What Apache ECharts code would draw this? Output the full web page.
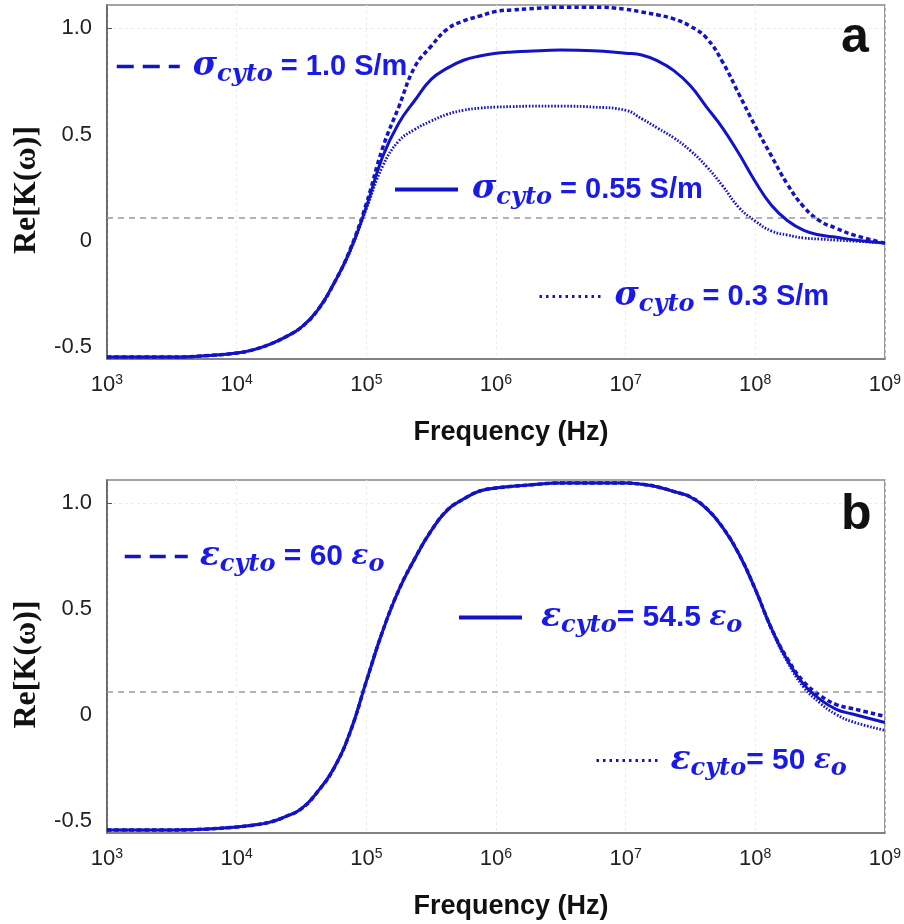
<!DOCTYPE html>
<html><head><meta charset="utf-8">
<script src="https://cdn.jsdelivr.net/npm/echarts@6/dist/echarts.min.js"></script>
<style>html,body{margin:0;padding:0;background:#fff}#c{width:904px;height:924px}</style>
</head><body><div id="c"></div>
<script>
// ---- data ----
const logFreq = [3, 3.5, 3.75, 4, 4.125, 4.25, 4.375, 4.5, 4.625, 4.75, 4.875, 5, 5.125, 5.25, 5.375, 5.5, 5.625, 5.75, 5.875, 6, 6.125, 6.25, 6.5, 6.75, 7, 7.125, 7.25, 7.375, 7.5, 7.625, 7.75, 7.875, 8, 8.125, 8.25, 8.375, 8.5, 8.625, 8.75, 9];
// panel a
const aSigma10  = [-0.546, -0.546, -0.54, -0.527, -0.512, -0.487, -0.452, -0.405, -0.325, -0.2, -0.04, 0.175, 0.436, 0.63, 0.82, 0.916, 0.997, 1.035, 1.058, 1.08, 1.087, 1.092, 1.1, 1.1, 1.09, 1.077, 1.063, 1.044, 1.01, 0.954, 0.84, 0.69, 0.54, 0.40, 0.265, 0.16, 0.094, 0.06, 0.03, -0.01];
const aSigma055 = [-0.546, -0.546, -0.54, -0.527, -0.512, -0.487, -0.452, -0.405, -0.325, -0.2, -0.045, 0.16, 0.395, 0.554, 0.662, 0.76, 0.813, 0.85, 0.87, 0.883, 0.889, 0.893, 0.898, 0.895, 0.883, 0.875, 0.846, 0.80, 0.73, 0.63, 0.53, 0.41, 0.28, 0.168, 0.095, 0.05, 0.028, 0.018, 0.006, -0.01];
const aSigma03  = [-0.546, -0.546, -0.54, -0.527, -0.512, -0.487, -0.452, -0.405, -0.325, -0.2, -0.05, 0.15, 0.35, 0.47, 0.525, 0.564, 0.596, 0.615, 0.625, 0.63, 0.632, 0.634, 0.634, 0.63, 0.615, 0.575, 0.53, 0.484, 0.425, 0.35, 0.258, 0.157, 0.094, 0.047, 0.028, 0.014, 0.009, 0.004, 0.0, -0.01];
// panel b
const bEps60  = [-0.541, -0.541, -0.537, -0.527, -0.518, -0.505, -0.478, -0.44, -0.36, -0.25, -0.08, 0.16, 0.395, 0.59, 0.74, 0.87, 0.968, 1.02, 1.058, 1.072, 1.08, 1.086, 1.096, 1.096, 1.096, 1.09, 1.077, 1.055, 1.03, 0.975, 0.885, 0.76, 0.595, 0.41, 0.265, 0.158, 0.094, 0.051, 0.032, -0.005];
const bEps545 = [-0.541, -0.541, -0.537, -0.527, -0.518, -0.505, -0.478, -0.44, -0.36, -0.25, -0.08, 0.16, 0.395, 0.59, 0.74, 0.87, 0.968, 1.02, 1.058, 1.072, 1.08, 1.086, 1.096, 1.096, 1.096, 1.09, 1.077, 1.055, 1.03, 0.975, 0.885, 0.76, 0.595, 0.41, 0.258, 0.145, 0.075, 0.028, 0.006, -0.034];
const bEps50  = [-0.541, -0.541, -0.537, -0.527, -0.518, -0.505, -0.478, -0.44, -0.36, -0.25, -0.08, 0.16, 0.395, 0.59, 0.74, 0.87, 0.968, 1.02, 1.058, 1.072, 1.08, 1.086, 1.096, 1.096, 1.096, 1.09, 1.077, 1.055, 1.03, 0.975, 0.885, 0.76, 0.595, 0.405, 0.25, 0.132, 0.058, 0.004, -0.03, -0.071];
const refLine = 0.11;
const yTicks = [-0.5, 0, 0.5, 1.0];
const yRange = [-0.555, 1.11];
const xRange = [1e3, 1e9];
const namesA = ['σcyto = 1.0 S/m', 'σcyto = 0.55 S/m', 'σcyto = 0.3 S/m'];
const namesB = ['εcyto = 60 εo', 'εcyto= 54.5 εo', 'εcyto= 50 εo'];
const labelTokensA = ['{s|σ}{b|cyto}{t| = 1.0 S/m}', '{s|σ}{b|cyto}{t| = 0.55 S/m}', '{s|σ}{b|cyto}{t| = 0.3 S/m}'];
const labelTokensB = ['{s|ε}{b|cyto}{t| = 60 }{s2|ε}{b|o}', '{s|ε}{b|cyto}{t|= 54.5 }{s2|ε}{b|o}', '{s|ε}{b|cyto}{t|= 50 }{s2|ε}{b|o}'];
const panelLetters = ['a', 'b'];

// ---- styles ----
const LINE = '#1212c8';
const TXT = '#1a1ae8';
const DASH = [4.5, 3];
const DOT = [1.6, 1.6];

function pts(ys) { return logFreq.map((e, i) => [Math.pow(10, e), ys[i]]); }
function series(name, ys, idx, type, width, z, withRef) {
  const s = {
    type: 'line', name, xAxisIndex: idx, yAxisIndex: idx, data: pts(ys),
    symbol: 'none', smooth: 0.45, silent: true, z,
    lineStyle: { color: LINE, width, type }, itemStyle: { color: LINE }
  };
  if (withRef) {
    s.markLine = {
      silent: true, symbol: ['none', 'none'], label: { show: false },
      lineStyle: { color: '#9a9a9a', type: [6, 5], width: 1.5 },
      data: [{ yAxis: refLine }]
    };
  }
  return s;
}
function rich(padL, tSize) {
  const serif = "'DejaVu Serif', 'Liberation Serif', serif";
  return {
    s: { fontFamily: serif, fontStyle: 'italic', fontWeight: 'bold', fontSize: 33, color: TXT, lineHeight: 40, padding: [0, 0, 0, padL] },
    s2: { fontFamily: serif, fontStyle: 'italic', fontWeight: 'bold', fontSize: 28, color: TXT, lineHeight: 40 },
    b: { fontFamily: serif, fontStyle: 'italic', fontWeight: 'bold', fontSize: 24, color: TXT, lineHeight: 26, verticalAlign: 'bottom' },
    t: { fontFamily: "'Liberation Sans', Arial, sans-serif", fontWeight: 'bold', fontSize: tSize, color: TXT, lineHeight: 40 }
  };
}
function legend(name, tokens, left, cy, ltype, lwidth, padL, tSize) {
  return {
    data: [name], left, top: cy - 20, padding: 0, itemWidth: 63, itemHeight: 12,
    selectedMode: false, lineStyle: { type: ltype, width: lwidth },
    itemStyle: { color: 'rgba(0,0,0,0)', borderWidth: 0, opacity: 0 },
    formatter: () => tokens, textStyle: { rich: rich(padL, tSize) }
  };
}
function xAxis(idx) {
  return {
    type: 'log', gridIndex: idx, logBase: 10, min: xRange[0], max: xRange[1], splitNumber: 6,
    name: 'Frequency (Hz)', nameLocation: 'middle', nameGap: 60,
    nameTextStyle: { fontFamily: "'Liberation Sans', Arial, sans-serif", fontWeight: 'bold', fontSize: 27, color: '#111', padding: [0, 0, 0, 30] },
    axisLine: { show: true, onZero: false, lineStyle: { color: '#777', width: 1.5 } },
    axisTick: { show: false },
    axisLabel: {
      margin: 14, color: '#222',
      formatter: v => '{n|10}{p|' + Math.round(Math.log10(v)) + '}',
      rich: {
        n: { fontFamily: "'Liberation Sans', Arial, sans-serif", fontSize: 22, color: '#222', lineHeight: 24 },
        p: { fontFamily: "'Liberation Sans', Arial, sans-serif", fontSize: 14, color: '#222', lineHeight: 14, verticalAlign: 'top' }
      }
    },
    splitLine: { show: true, lineStyle: { color: '#ececec', type: [3, 3], width: 1 } }
  };
}
function yAxis(idx) {
  return {
    type: 'value', gridIndex: idx, min: yRange[0], max: yRange[1], splitNumber: 3,
    name: 'Re[K(ω)]', nameLocation: 'middle', nameGap: 60, nameRotate: 90,
    nameTextStyle: { fontFamily: "'Liberation Serif', 'Times New Roman', serif", fontWeight: 'bold', fontSize: 32, color: '#111', padding: [0, 16, 0, 0] },
    axisLine: { show: true, onZero: false, lineStyle: { color: '#555', width: 1.5 } },
    axisTick: { show: true, inside: true, length: 5, customValues: [1.0], lineStyle: { color: '#555' } },
    axisLabel: {
      margin: 15, customValues: yTicks,
      fontFamily: "'Liberation Sans', Arial, sans-serif", fontSize: 22, color: '#222',
      formatter: v => (v === 0 ? '0' : v.toFixed(1))
    },
    splitLine: { show: true, lineStyle: { color: '#ececec', type: [3, 3], width: 1 } }
  };
}

const letterStyle = { fontFamily: "'Liberation Sans', Arial, sans-serif", fontWeight: 'bold', fontSize: 50, color: '#111' };
const option = {
  animation: false,
  backgroundColor: '#fff',
  title: [
    { text: panelLetters[0], left: 841, top: 13, padding: 0, textStyle: letterStyle },
    { text: panelLetters[1], left: 841, top: 490, padding: 0, textStyle: letterStyle }
  ],
  grid: [
    { left: 107, top: 5, width: 782, height: 354, show: true, borderColor: '#888', borderWidth: 1.5, backgroundColor: 'transparent' },
    { left: 107, top: 480, width: 782, height: 353, show: true, borderColor: '#888', borderWidth: 1.5, backgroundColor: 'transparent' }
  ],
  xAxis: [xAxis(0), xAxis(1)],
  yAxis: [yAxis(0), yAxis(1)],
  legend: [
    legend(namesA[0], labelTokensA[0], 115, 70, [17, 9], 3.5, 8, 29),
    legend(namesA[1], labelTokensA[1], 393, 193, 'solid', 4, 9, 29),
    legend(namesA[2], labelTokensA[2], 538, 300, [2.5, 4], 3, 7, 29),
    legend(namesB[0], labelTokensB[0], 123, 560, [16, 9], 3.5, 7, 30),
    legend(namesB[1], labelTokensB[1], 457, 621, 'solid', 4, 14, 30),
    legend(namesB[2], labelTokensB[2], 595, 764, [2.5, 4], 3, 6, 30)
  ],
  series: [
    series(namesA[2], aSigma03, 0, DOT, 2.8, 3, false),
    series(namesA[0], aSigma10, 0, DASH, 3.5, 4, false),
    series(namesA[1], aSigma055, 0, 'solid', 3, 5, true),
    series(namesB[2], bEps50, 1, DOT, 2.8, 3, false),
    series(namesB[0], bEps60, 1, DASH, 3.5, 4, false),
    series(namesB[1], bEps545, 1, 'solid', 3, 5, true)
  ]
};
const chart = echarts.init(document.getElementById('c'), null, { renderer: 'canvas' });
chart.setOption(option);
</script>
</body></html>
